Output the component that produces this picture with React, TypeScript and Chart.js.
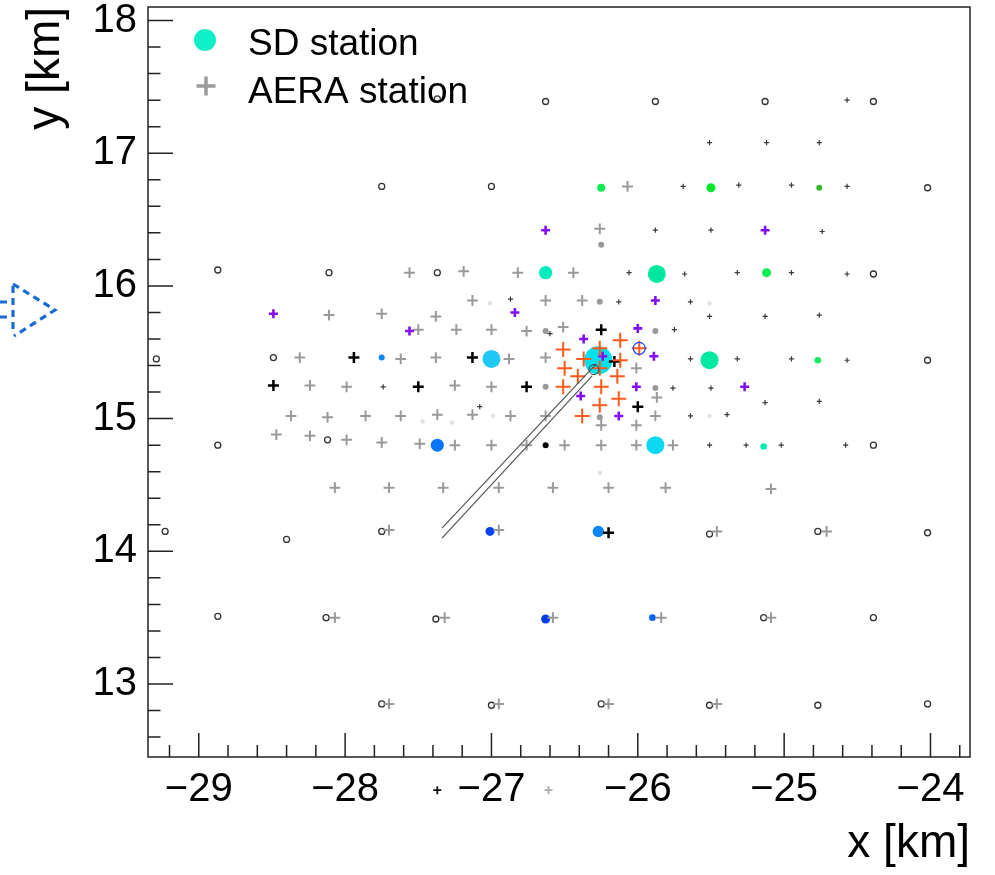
import React, { useEffect, useRef } from "react";
import { Chart, registerables } from "chart.js";

Chart.register(...registerables);

// ---------- axis ----------
const xTickValues = [-29, -28, -27, -26, -25, -24];
const xTickLabels = ["\u221229", "\u221228", "\u221227", "\u221226", "\u221225", "\u221224"];
const yTickValues = [13, 14, 15, 16, 17, 18];
const yTickLabels = ["13", "14", "15", "16", "17", "18"];
const X_MIN = -29.347;
const X_MAX = -23.73;
const Y_MIN = 12.45;
const Y_MAX = 18.102;

// ---------- SD stations without signal ----------
const sdIdle: [number, number][] = [
  [-27.37, 17.41], [-26.63, 17.39], [-25.88, 17.39], [-25.13, 17.39], [-24.39, 17.39],
  [-27.75, 16.75], [-27.0, 16.75], [-24.02, 16.74],
  [-28.87, 16.12], [-28.11, 16.1], [-27.37, 16.1], [-24.39, 16.09],
  [-29.29, 15.45], [-28.49, 15.46], [-24.02, 15.44],
  [-28.87, 14.8], [-28.12, 14.84], [-24.39, 14.8],
  [-29.23, 14.15], [-28.4, 14.09], [-27.75, 14.15], [-25.51, 14.13], [-24.77, 14.15], [-24.02, 14.14],
  [-28.87, 13.51], [-28.13, 13.5], [-27.38, 13.49], [-25.14, 13.5], [-24.39, 13.5],
  [-27.75, 12.85], [-27.0, 12.84], [-26.25, 12.85], [-25.51, 12.84], [-24.77, 12.84], [-24.02, 12.85],
];

// ---------- SD stations with signal ----------
const sdHitX = [-26.27, -27.0, -25.88, -27.37, -26.63, -25.87, -25.51, -26.25, -25.5, -24.76, -25.12, -24.77, -25.14, -27.75, -27.01, -26.27, -26.63, -25.9];
const sdHitY = [15.44, 15.45, 14.8, 14.8, 16.1, 16.09, 15.44, 16.74, 16.74, 16.74, 16.1, 15.44, 14.79, 15.46, 14.15, 14.15, 13.49, 13.5];
const sdHitSignal = [85, 29, 29, 12, 13, 29, 29, 2.4, 3.7, 0.6, 3.7, 1.0, 1.0, 0.6, 3.7, 8, 3.7, 1.0];
const sdHitTime = [0.5, 0.4, 0.46, 0.17, 0.62, 0.71, 0.7, 0.86, 0.94, 1.0, 0.86, 0.84, 0.65, 0.22, 0.05, 0.22, 0.03, 0.12];

// ---------- other SD markers ----------
const sdGrayDots: [number, number][] = [
  [-26.26, 15.88], [-26.63, 15.66], [-25.88, 15.66], [-26.63, 15.24], [-25.88, 15.23], [-26.26, 15.01], [-26.25, 16.31],
];
const sdBlackDots: [number, number][] = [[-26.63, 14.8]];
const sdFaintDots: [number, number][] = [
  [-27.01, 15.87], [-25.51, 15.87], [-27.47, 14.98], [-27.27, 14.97], [-26.99, 15.02], [-25.51, 15.02], [-26.26, 14.59],
];

// ---------- AERA stations ----------
const aeraGray: [number, number][] = [
  [-26.07, 16.75], [-26.26, 16.43],
  [-27.56, 16.1], [-27.19, 16.11], [-26.82, 16.1], [-26.44, 16.1],
  [-27.13, 15.89], [-26.63, 15.89], [-26.38, 15.89],
  [-28.11, 15.78], [-27.75, 15.79], [-27.38, 15.77],
  [-27.5, 15.67], [-27.24, 15.67], [-27.0, 15.67], [-26.76, 15.66], [-26.51, 15.69],
  [-28.31, 15.46], [-27.62, 15.45], [-27.38, 15.46], [-26.88, 15.45], [-26.63, 15.46],
  [-26.01, 15.38],
  [-28.24, 15.25], [-27.99, 15.24], [-27.25, 15.25], [-27.0, 15.24],
  [-25.87, 15.16],
  [-28.37, 15.02], [-28.12, 15.01], [-27.86, 15.02], [-27.62, 15.02], [-27.37, 15.03], [-27.13, 15.03],
  [-26.87, 15.02], [-26.63, 15.02], [-25.88, 15.02],
  [-26.25, 14.95], [-26.01, 14.95],
  [-28.47, 14.88], [-28.24, 14.87], [-27.99, 14.84], [-27.75, 14.82], [-27.49, 14.81], [-27.25, 14.8],
  [-27.0, 14.8], [-26.76, 14.8], [-26.5, 14.8], [-26.25, 14.8], [-26.01, 14.8], [-25.76, 14.8],
  [-28.07, 14.48], [-27.7, 14.48], [-27.33, 14.48], [-26.95, 14.48], [-26.58, 14.48], [-26.2, 14.48],
  [-25.81, 14.48], [-25.09, 14.47],
  [-27.7, 14.16], [-26.95, 14.16], [-25.46, 14.15], [-24.71, 14.15],
  [-28.07, 13.5], [-27.32, 13.5], [-26.58, 13.5], [-25.84, 13.5], [-25.09, 13.5],
  [-27.7, 12.85], [-26.95, 12.85], [-26.2, 12.85], [-25.46, 12.85],
];
const aeraSmall: [number, number][] = [
  [-24.57, 17.4],
  [-25.51, 17.08], [-25.12, 17.08], [-24.76, 17.08],
  [-25.69, 16.75], [-25.31, 16.76], [-24.95, 16.76], [-24.57, 16.75],
  [-25.88, 16.42], [-25.5, 16.42], [-24.74, 16.41],
  [-26.06, 16.1], [-25.68, 16.09], [-25.32, 16.1], [-24.95, 16.1], [-24.57, 16.09],
  [-26.87, 15.9], [-26.13, 15.88], [-25.64, 15.88],
  [-25.51, 15.77], [-25.13, 15.77], [-24.76, 15.78],
  [-25.75, 15.67], [-26.6, 15.64],
  [-25.64, 15.45], [-25.32, 15.45], [-24.95, 15.45], [-24.57, 15.44],
  [-27.74, 15.24], [-25.76, 15.23], [-25.5, 15.23],
  [-25.13, 15.12], [-24.76, 15.13], [-27.08, 15.09],
  [-25.64, 15.02], [-25.39, 15.03],
  [-25.51, 14.8], [-25.26, 14.8], [-25.02, 14.8], [-24.58, 14.8],
];
const aeraBlack: [number, number][] = [
  [-27.94, 15.46], [-27.13, 15.46], [-28.49, 15.25], [-27.5, 15.24], [-26.76, 15.24],
  [-26.25, 15.67], [-26.0, 15.09], [-26.2, 14.14], [-26.16, 15.43],
];
const aeraPurple: [number, number][] = [
  [-26.63, 16.42], [-25.13, 16.42], [-28.49, 15.79], [-26.84, 15.8], [-27.56, 15.66],
  [-25.88, 15.89], [-26.0, 15.68], [-26.37, 15.6], [-25.89, 15.47], [-26.24, 15.47],
  [-26.01, 15.24], [-25.27, 15.24], [-26.39, 15.17], [-26.13, 15.02],
];
const aeraOrange: [number, number][] = [
  [-26.51, 15.52], [-26.26, 15.53], [-26.12, 15.59], [-25.99, 15.53], [-26.37, 15.45],
  [-26.12, 15.44], [-26.5, 15.38], [-26.26, 15.38], [-26.41, 15.32], [-26.14, 15.32],
  [-26.51, 15.24], [-26.25, 15.24], [-26.13, 15.15], [-26.26, 15.1], [-26.38, 15.02],
];
const aeraRing: [number, number][] = [[-25.99, 15.53]];

// ---------- shower axis ----------
const axisLineA: [number, number][] = [[-27.338, 14.1], [-26.312, 15.322]];
const axisLineB: [number, number][] = [[-27.338, 14.175], [-26.284, 15.413]];
const axisCore: [number, number][] = [[-26.3, 15.37]];

// markers drawn below the frame in the original figure
const outsideBlack: [number, number][] = [[-27.37, 12.2]];
const outsideGray: [number, number][] = [[-26.61, 12.2]];

const FONT = "'Liberation Sans', Arial, Helvetica, sans-serif";

const paletteStops: [number, string][] = [
  [0.0, "#0030f0"], [0.15, "#0a70f5"], [0.25, "#0a90fa"], [0.4, "#20c8f5"], [0.5, "#00e2ee"],
  [0.62, "#00ecbc"], [0.72, "#00e89c"], [0.85, "#10ee58"], [0.93, "#00ee2a"], [1.0, "#38b828"],
];

function hexToRgb(h: string) {
  const n = parseInt(h.slice(1), 16);
  return [(n >> 16) & 255, (n >> 8) & 255, n & 255];
}
function timeColor(t: number) {
  for (let i = 1; i < paletteStops.length; i++) {
    const [t1, c1] = paletteStops[i];
    const [t0, c0] = paletteStops[i - 1];
    if (t <= t1) {
      const f = (t - t0) / (t1 - t0 || 1);
      const a = hexToRgb(c0), b = hexToRgb(c1);
      const m = a.map((v, k) => Math.round(v + (b[k] - v) * f));
      return `rgb(${m[0]},${m[1]},${m[2]})`;
    }
  }
  return paletteStops[paletteStops.length - 1][1];
}
const signalRadius = (s: number) => 2 + 1.3 * Math.sqrt(s);
const pts = (a: [number, number][]) => a.map(([x, y]) => ({ x, y }));

const framePlugin = {
  id: "rootFrame",
  afterDraw(chart: any) {
    const { ctx, chartArea: a, scales } = chart;
    const xs = scales.x, ys = scales.y;
    ctx.save();
    ctx.strokeStyle = "#222";
    ctx.lineWidth = 1.5;
    ctx.strokeRect(a.left, a.top, a.right - a.left, a.bottom - a.top);
    ctx.beginPath();
    for (let k = 63; k <= 90; k++) {
      const py = ys.getPixelForValue(k / 5);
      const len = k % 5 === 0 ? 25 : 12.5;
      ctx.moveTo(a.left, py);
      ctx.lineTo(a.left + len, py);
    }
    for (let k = -146; k <= -119; k++) {
      const px = xs.getPixelForValue(k / 5);
      const len = k % 5 === 0 ? 24 : 12;
      ctx.moveTo(px, a.bottom);
      ctx.lineTo(px, a.bottom - len);
    }
    ctx.stroke();

    // legend
    const lx = a.left + 57;
    ctx.fillStyle = "#10f0c8";
    ctx.beginPath();
    ctx.arc(lx, 40, 11, 0, Math.PI * 2);
    ctx.fill();
    ctx.strokeStyle = "#9a9a9a";
    ctx.lineWidth = 3.5;
    ctx.beginPath();
    ctx.moveTo(lx + 1 - 9.5, 86);
    ctx.lineTo(lx + 1 + 9.5, 86);
    ctx.moveTo(lx + 1, 86 - 9.5);
    ctx.lineTo(lx + 1, 86 + 9.5);
    ctx.stroke();
    ctx.fillStyle = "#000";
    ctx.font = `37px ${FONT}`;
    ctx.textAlign = "left";
    ctx.textBaseline = "alphabetic";
    ctx.fillText("SD station", a.left + 100, 55);
    ctx.fillText("AERA station", a.left + 100, 103);

    // markers outside frame
    const cross = (x: number, y: number, r: number, color: string, w: number) => {
      ctx.strokeStyle = color;
      ctx.lineWidth = w;
      ctx.beginPath();
      ctx.moveTo(x - r, y); ctx.lineTo(x + r, y);
      ctx.moveTo(x, y - r); ctx.lineTo(x, y + r);
      ctx.stroke();
    };
    outsideBlack.forEach(([x, y]) => cross(xs.getPixelForValue(x), ys.getPixelForValue(y), 4, "#111", 1.8));
    outsideGray.forEach(([x, y]) => cross(xs.getPixelForValue(x), ys.getPixelForValue(y), 4, "#aaa", 1.8));

    // blue dashed arrow at the left edge
    ctx.strokeStyle = "#1a6ad2";
    ctx.lineWidth = 3.2;
    ctx.setLineDash([7, 5]);
    ctx.beginPath();
    ctx.moveTo(13, 284);
    ctx.lineTo(55, 310);
    ctx.lineTo(14, 336);
    ctx.moveTo(13, 286);
    ctx.lineTo(13, 334);
    ctx.moveTo(0, 302);
    ctx.lineTo(10, 302);
    ctx.moveTo(0, 317);
    ctx.lineTo(10, 317);
    ctx.stroke();
    ctx.setLineDash([]);
    ctx.restore();
  },
};

export default function App() {
  const ref = useRef<HTMLCanvasElement | null>(null);
  useEffect(() => {
    document.body.style.margin = "0";
    if (!ref.current) return;
    const crossSet = (label: string, data: [number, number][], color: string, r: number, w: number, order: number) => ({
      label,
      data: pts(data),
      pointStyle: "cross",
      pointRadius: r,
      pointBorderColor: color,
      pointBorderWidth: w,
      pointBackgroundColor: color,
      order,
    });
    const dotSet = (label: string, data: [number, number][], color: string, r: number, order: number) => ({
      label,
      data: pts(data),
      pointStyle: "circle",
      pointRadius: r,
      pointBackgroundColor: color,
      pointBorderWidth: 0,
      order,
    });
    const lineSet = (label: string, data: [number, number][]) => ({
      label,
      data: pts(data),
      showLine: true,
      borderColor: "#555",
      borderWidth: 1.2,
      pointRadius: 0,
      order: 0,
    });
    const chart = new Chart(ref.current, {
      type: "scatter",
      data: {
        datasets: [
          lineSet("axisA", axisLineA),
          lineSet("axisB", axisLineB),
          {
            label: "core",
            data: pts(axisCore),
            pointStyle: "circle",
            pointRadius: 5,
            pointBackgroundColor: "rgba(0,0,0,0)",
            pointBorderColor: "#333",
            pointBorderWidth: 1,
            order: 0,
          },
          {
            label: "ring",
            data: pts(aeraRing),
            pointStyle: "circle",
            pointRadius: 6,
            pointBackgroundColor: "rgba(0,0,0,0)",
            pointBorderColor: "#2244ff",
            pointBorderWidth: 1.2,
            order: 0,
          },
          crossSet("AERA orange", aeraOrange, "#ff5a1a", 7.5, 2, 1),
          crossSet("AERA purple", aeraPurple, "#8410f2", 4.5, 2.6, 2),
          crossSet("AERA black", aeraBlack, "#000", 5.5, 2.5, 3),
          crossSet("AERA small", aeraSmall, "#3a3a3a", 2.6, 1.2, 4),
          crossSet("AERA station", aeraGray, "#9a9a9a", 5.4, 2, 5),
          dotSet("SD gray", sdGrayDots, "#999", 3, 6),
          dotSet("SD black", sdBlackDots, "#000", 3, 6),
          dotSet("SD faint", sdFaintDots, "#e2e2e2", 2.2, 6),
          {
            label: "SD station",
            data: sdHitX.map((x, i) => ({ x, y: sdHitY[i] })),
            pointStyle: "circle",
            pointRadius: sdHitSignal.map(signalRadius),
            pointBackgroundColor: sdHitTime.map(timeColor),
            pointBorderWidth: 0,
            order: 7,
          },
          {
            label: "SD idle",
            data: pts(sdIdle),
            pointStyle: "circle",
            pointRadius: 3,
            pointBackgroundColor: "rgba(0,0,0,0)",
            pointBorderColor: "#333",
            pointBorderWidth: 1.3,
            order: 8,
          },
        ] as any,
      },
      options: {
        animation: false,
        responsive: false,
        events: [],
        layout: { autoPadding: false, padding: { top: 7, right: 25, left: 0, bottom: 0 } },
        plugins: { legend: { display: false }, tooltip: { enabled: false } },
        scales: {
          x: {
            type: "linear",
            min: X_MIN,
            max: X_MAX,
            grid: { display: false, drawTicks: false },
            border: { display: false },
            afterBuildTicks: (s: any) => {
              s.ticks = xTickValues.map((v) => ({ value: v }));
            },
            afterFit: (s: any) => {
              s.height = 118;
              s.paddingLeft = 0;
              s.paddingRight = 0;
            },
            ticks: {
              autoSkip: false,
              maxRotation: 0,
              padding: 9,
              color: "#000",
              font: { family: FONT, size: 40 },
              callback: (v: any) => xTickLabels[xTickValues.findIndex((t) => Math.abs(t - v) < 1e-6)] ?? "",
            },
            title: {
              display: true,
              text: "x [km]",
              align: "end",
              color: "#000",
              font: { family: FONT, size: 46, lineHeight: 1 },
              padding: { top: 0, bottom: 8 },
            },
          },
          y: {
            type: "linear",
            min: Y_MIN,
            max: Y_MAX,
            grid: { display: false, drawTicks: false },
            border: { display: false },
            afterBuildTicks: (s: any) => {
              s.ticks = yTickValues.map((v) => ({ value: v }));
            },
            afterFit: (s: any) => {
              s.width = 148;
              s.paddingTop = 0;
              s.paddingBottom = 0;
            },
            ticks: {
              autoSkip: false,
              padding: 11,
              color: "#000",
              font: { family: FONT, size: 40 },
              callback: (v: any) => yTickLabels[yTickValues.findIndex((t) => Math.abs(t - v) < 1e-6)] ?? "",
            },
            title: {
              display: true,
              text: "y [km]",
              align: "end",
              color: "#000",
              font: { family: FONT, size: 46, lineHeight: 1 },
              padding: { top: 23, bottom: 0 },
            },
          },
        },
      } as any,
      plugins: [framePlugin],
    });
    return () => chart.destroy();
  }, []);
  return (
    <div style={{ width: 995, height: 875, background: "#fff" }}>
      <canvas ref={ref} width={995} height={875} style={{ display: "block" }} />
    </div>
  );
}
